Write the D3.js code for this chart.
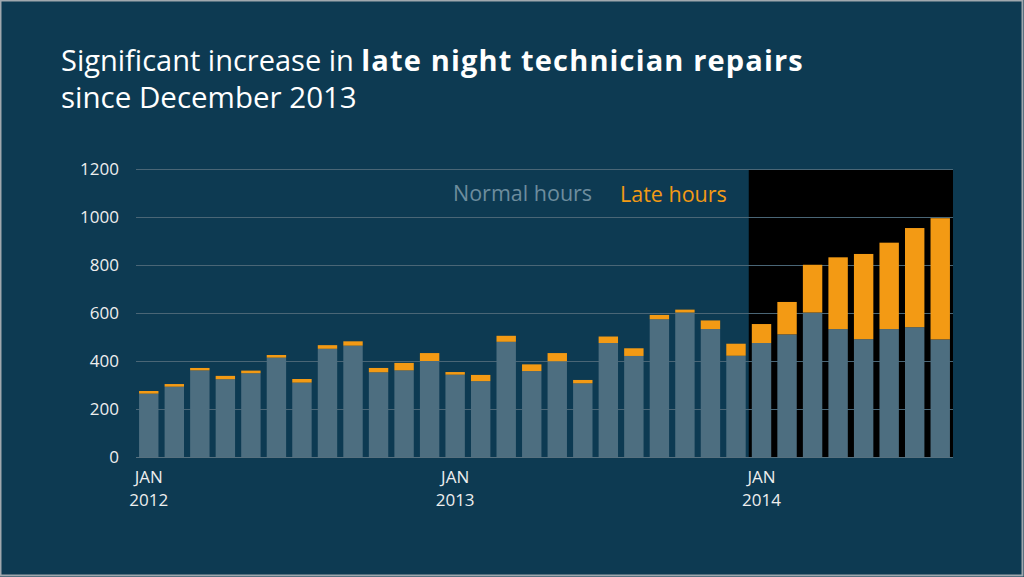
<!DOCTYPE html>
<html>
<head>
<meta charset="utf-8">
<script src="https://cdn.jsdelivr.net/npm/d3@7/dist/d3.min.js"></script>
<style>
  html, body { margin: 0; padding: 0; background: #0d3a52; }
  svg { display: block; }
</style>
</head>
<body>
<svg id="svg" width="1024" height="577"></svg>
<script>
// monthly repairs, Jan 2012 .. Aug 2014
const months = [
    "2012-01", "2012-02", "2012-03", "2012-04", "2012-05", "2012-06",
    "2012-07", "2012-08", "2012-09", "2012-10", "2012-11", "2012-12",
    "2013-01", "2013-02", "2013-03", "2013-04", "2013-05", "2013-06",
    "2013-07", "2013-08", "2013-09", "2013-10", "2013-11", "2013-12",
    "2014-01", "2014-02", "2014-03", "2014-04", "2014-05", "2014-06",
    "2014-07", "2014-08"
];
const normalHours = [
    264, 293, 361, 324, 349, 414, 310, 451, 464, 353, 361, 400,
    343, 316, 480, 358, 399, 307, 475, 421, 574, 602, 533, 422,
    475, 511, 602, 533, 491, 533, 541, 490
];
const lateHours = [
    11, 11, 10, 14, 11, 11, 15, 15, 18, 18, 31, 33,
    11, 26, 25, 28, 34, 14, 27, 32, 18, 12, 36, 50,
    79, 135, 199, 299, 355, 360, 413, 505
];
const yTicks = [0, 200, 400, 600, 800, 1000, 1200];
const yearLabels = [
    { month: "2012-01", top: "JAN", bottom: "2012" },
    { month: "2013-01", top: "JAN", bottom: "2013" },
    { month: "2014-01", top: "JAN", bottom: "2014" }
];
const highlightFrom = "2014-01";

const font = "'Open Sans', sans-serif";
const bg = "#0d3a52";
const normalColor = "#4d6e80";
const lateColor = "#f39a14";

const svg = d3.select("#svg");

// slide frame
svg.append("rect")
    .attr("x", 0.5).attr("y", 0.5)
    .attr("width", 1022).attr("height", 575)
    .attr("fill", bg)
    .attr("stroke", "#a0a8ae")
    .attr("stroke-width", 2);

// title
const title = svg.append("text")
    .attr("x", 61)
    .attr("y", 71)
    .attr("font-family", font)
    .attr("font-size", 29)
    .attr("fill", "#ffffff");
title.append("tspan").text("Significant increase in ");
title.append("tspan")
    .attr("font-weight", "bold")
    .attr("letter-spacing", 1.15)
    .text("late night technician repairs");

svg.append("text")
    .attr("x", 61)
    .attr("y", 108)
    .attr("font-family", font)
    .attr("font-size", 29.5)
    .attr("fill", "#ffffff")
    .text("since December 2013");

const margin = { left: 136, right: 953, top: 169, bottom: 457 };

const x = d3.scaleBand()
    .domain(months)
    .range([margin.left, margin.right])
    .paddingInner(0.24)
    .paddingOuter(0.12);

const y = d3.scaleLinear()
    .domain([0, 1200])
    .range([margin.bottom, margin.top]);

// highlighted period
const hx = x(highlightFrom) - x.step() * x.paddingInner() / 2;
svg.append("rect")
    .attr("x", hx)
    .attr("y", y(1200))
    .attr("width", margin.right - hx)
    .attr("height", y(0) - y(1200))
    .attr("fill", "#000000");

// gridlines
svg.append("g")
    .selectAll("line")
    .data(yTicks)
    .join("line")
    .attr("x1", margin.left)
    .attr("x2", margin.right)
    .attr("y1", d => y(d) + 0.5)
    .attr("y2", d => y(d) + 0.5)
    .attr("stroke", d => d === 0 ? "#56707e" : "#4a6676")
    .attr("stroke-width", 1);

// y labels
svg.append("g")
    .selectAll("text")
    .data(yTicks)
    .join("text")
    .attr("x", 119)
    .attr("y", d => y(d))
    .attr("dy", "0.35em")
    .attr("text-anchor", "end")
    .attr("font-family", font)
    .attr("font-size", 17)
    .attr("fill", "#eeeeee")
    .text(d => d);

// bars
const rows = months.map((m, i) => ({ month: m, normal: normalHours[i], late: lateHours[i] }));
const stacked = d3.stack().keys(["normal", "late"])(rows);
const colors = { normal: normalColor, late: lateColor };

svg.append("g")
    .selectAll("g")
    .data(stacked)
    .join("g")
    .attr("fill", d => colors[d.key])
    .selectAll("rect")
    .data(d => d)
    .join("rect")
    .attr("x", d => x(d.data.month))
    .attr("y", d => y(d[1]))
    .attr("width", x.bandwidth())
    .attr("height", d => y(d[0]) - y(d[1]));

// x labels
const xl = svg.append("g")
    .selectAll("text")
    .data(yearLabels)
    .join("text")
    .attr("x", d => x(d.month) + x.bandwidth() / 2)
    .attr("y", 483)
    .attr("text-anchor", "middle")
    .attr("font-family", font)
    .attr("font-size", 17)
    .attr("fill", "#eeeeee");
xl.append("tspan").text(d => d.top);
xl.append("tspan")
    .attr("x", d => x(d.month) + x.bandwidth() / 2)
    .attr("dy", 23)
    .text(d => d.bottom);

// legend
svg.append("text")
    .attr("x", 453)
    .attr("y", 201)
    .attr("font-family", font)
    .attr("font-size", 21.5)
    .attr("fill", "#6d8d9e")
    .text("Normal hours");

svg.append("text")
    .attr("x", 620)
    .attr("y", 202)
    .attr("font-family", font)
    .attr("font-size", 21.5)
    .attr("fill", lateColor)
    .text("Late hours");
</script>
</body>
</html>
